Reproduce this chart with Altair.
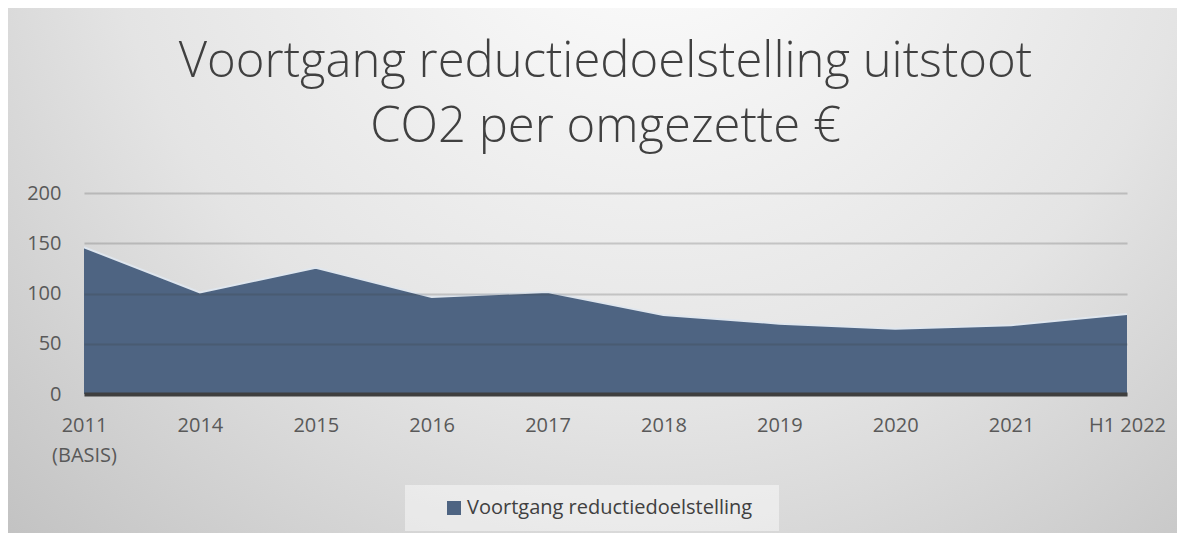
import altair as alt
import pandas as pd

categories = ["2011\n(BASIS)", "2014", "2015", "2016", "2017", "2018", "2019", "2020", "2021", "H1 2022"]
values = [146, 101, 125.5, 96.5, 101.5, 78.5, 70, 65, 68.5, 79.5]
series_name = "Voortgang reductiedoelstelling"
y_ticks = [0, 50, 100, 150, 200]
title_lines = ["Voortgang reductiedoelstelling uitstoot", "CO2 per omgezette €"]

df = pd.DataFrame({"cat": categories, "val": values, "series": [series_name] * len(categories)})

W, H = 1043, 201
PAD = {"left": 76, "top": 185, "right": 50, "bottom": 139}
FONT = "Open Sans"

bg_gradient = alt.RadialGradient(
    gradient="radial",
    x1=0.55, y1=0.15, r1=0.0,
    x2=0.55, y2=0.15, r2=0.85,
    stops=[
        alt.GradientStop(offset=0, color="#ffffff"),
        alt.GradientStop(offset=0.55, color="#e4e4e4"),
        alt.GradientStop(offset=1, color="#bdbdbd"),
    ],
)

bg = alt.Chart(pd.DataFrame({"a": [0]})).mark_rect(fill=bg_gradient, clip=False).encode(
    x=alt.value(-PAD["left"]),
    x2=alt.value(W + PAD["right"]),
    y=alt.value(-PAD["top"]),
    y2=alt.value(H + PAD["bottom"]),
)

xenc = alt.X(
    "cat:N",
    sort=categories,
    scale=alt.Scale(type="point", padding=0),
    axis=alt.Axis(
        title=None,
        labelAngle=0,
        labelExpr="split(datum.label, '\\n')",
        labelFont=FONT,
        labelFontSize=20,
        labelColor="#595959",
        labelPadding=21,
        labelLineHeight=30,
        labelBaseline="top",
        ticks=False,
        grid=False,
        domainColor="#3f3f3f",
        domainWidth=4,
        zindex=2,
    ),
)

yenc = alt.Y(
    "val:Q",
    scale=alt.Scale(domain=[0, 200], nice=False),
    axis=alt.Axis(
        title=None,
        values=y_ticks,
        labelFont=FONT,
        labelFontSize=20,
        labelColor="#595959",
        labelPadding=23,
        ticks=False,
        domain=False,
        grid=True,
        gridColor="#3a3a3a",
        gridOpacity=0.22,
        gridWidth=2,
        zindex=1,
    ),
)

area = alt.Chart(df).mark_area(opacity=1).encode(
    x=xenc,
    y=yenc,
    color=alt.Color(
        "series:N",
        scale=alt.Scale(range=["#4e6482"]),
        legend=alt.Legend(
            title="\u00a0",
            titleOrient="right",
            titlePadding=14,
            titleFontSize=4,
            orient="none",
            legendX=321,
            legendY=292,
            symbolType="square",
            symbolSize=196,
            symbolStrokeWidth=0,
            symbolOffset=26,
            labelOffset=3,
            labelFont=FONT,
            labelFontSize=20,
            labelColor="#404040",
            fillColor="rgba(255,255,255,0.45)",
            padding=13,
            labelLimit=600,
        ),
    ),
)

line = alt.Chart(df).mark_line(color="#dfe6ee", strokeWidth=2).encode(
    x=alt.X("cat:N", sort=categories),
    y="val:Q",
)

chart = alt.layer(bg, area, line).properties(
    width=W,
    height=H,
    padding=PAD,
    autosize=alt.AutoSizeParams(type="none"),
    background="#ffffff",
    title=alt.TitleParams(
        text=title_lines,
        font=FONT,
        fontWeight=300,
        fontSize=49,
        color="#404040",
        lineHeight=65,
        anchor="middle",
        frame="group",
        offset=41,
        dy=PAD["top"],
    ),
).configure_view(stroke=None)

chart.save("out.html", embed_options={"renderer": "svg", "actions": False})
